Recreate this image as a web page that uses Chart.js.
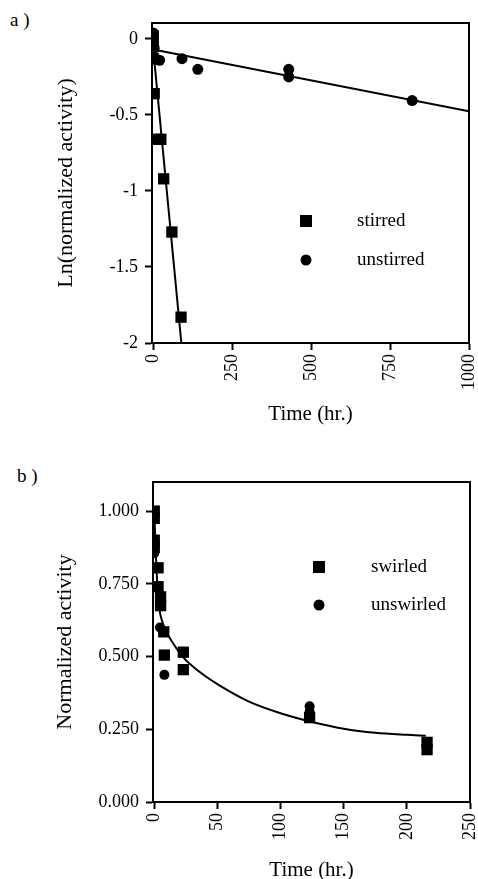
<!DOCTYPE html>
<html>
<head>
<meta charset="utf-8">
<script src="https://cdn.jsdelivr.net/npm/chart.js@4.4.1/dist/chart.umd.min.js"></script>
<style>
  html, body { margin: 0; padding: 0; background: #fff; }
  body { width: 478px; height: 879px; position: relative; overflow: hidden; font-family: "Liberation Serif", serif; }
  .panel { position: absolute; left: 0; width: 478px; }
  #wrapA { top: 0; height: 440px; }
  #wrapB { top: 440px; height: 439px; }
  .tag { position: absolute; font-size: 19px; line-height: 1; color: #000; }
</style>
</head>
<body>
<div class="tag" style="left:10px;top:10px;">a )</div>
<div class="tag" style="left:17px;top:466px;">b )</div>
<div class="panel" id="wrapA"><canvas id="chartA" width="478" height="440"></canvas></div>
<div class="panel" id="wrapB"><canvas id="chartB" width="478" height="439"></canvas></div>

<script>
// panel a: ln(normalized activity) vs time
const stirredTime = [0, 0, 0, 3, 10, 24, 33, 59, 88];
const stirredLn = [0.02, -0.05, -0.13, -0.36, -0.66, -0.66, -0.92, -1.27, -1.83];
const unstirredTime = [0, 0, 0, 3, 20, 91, 141, 429, 429, 820];
const unstirredLn = [0.04, 0.01, -0.03, -0.06, -0.14, -0.13, -0.2, -0.2, -0.25, -0.405];
const stirredFitTime = [0, 89];
const stirredFitLn = [-0.07, -2.0];
const unstirredFitTime = [0, 1000];
const unstirredFitLn = [-0.07, -0.475];
const ticksTimeA = [0, 250, 500, 750, 1000];
const ticksLnA = [0, -0.5, -1, -1.5, -2];

// panel b: normalized activity vs time
const swirledTime = [0, 0, 0, 0, 3, 3, 5, 5, 7.5, 8, 23, 23, 123, 216, 216];
const swirledAct = [1.0, 0.975, 0.9, 0.875, 0.805, 0.74, 0.705, 0.675, 0.585, 0.505, 0.515, 0.455, 0.29, 0.205, 0.18];
const unswirledTime = [0, 0, 4.5, 8, 123, 123];
const unswirledAct = [0.885, 0.855, 0.6, 0.437, 0.329, 0.31];
const fitTimeB = [0, 1, 2, 3, 4, 6, 9, 15, 23, 35, 50, 75, 100, 125, 150, 175, 200, 215];
const fitActB = [1.0, 0.88, 0.78, 0.71, 0.665, 0.625, 0.59, 0.545, 0.497, 0.45, 0.405, 0.345, 0.305, 0.275, 0.252, 0.238, 0.231, 0.228];
const ticksTimeB = [0, 50, 100, 150, 200, 250];
const ticksActB = [0, 0.25, 0.5, 0.75, 1.0];

const FONT = "Liberation Serif";

function pts(xs, ys) {
  return xs.map((x, i) => ({ x: x, y: ys[i] }));
}

// box round the plot area (top and right side)
const framePlugin = {
  id: 'frame',
  afterDraw(chart) {
    const { ctx, chartArea: a } = chart;
    ctx.save();
    ctx.strokeStyle = '#000';
    ctx.lineWidth = 2;
    ctx.beginPath();
    ctx.moveTo(a.left, a.top);
    ctx.lineTo(a.right, a.top);
    ctx.lineTo(a.right, a.bottom);
    ctx.stroke();
    ctx.restore();
  }
};

// legend inside the plot, marker then label
const keyPlugin = {
  id: 'key',
  afterDraw(chart, args, opts) {
    const ctx = chart.ctx;
    ctx.save();
    ctx.fillStyle = '#000';
    ctx.font = '19px "' + FONT + '"';
    ctx.textBaseline = 'middle';
    ctx.textAlign = 'left';
    chart.data.datasets.forEach(ds => {
      if (ds.showLine) return;
      const row = opts.rows[ds.keyRow];
      if (ds.pointStyle === 'rect') {
        ctx.fillRect(opts.markX - 6, row - 6, 12, 12);
      } else {
        ctx.beginPath();
        ctx.arc(opts.markX, row, 5.5, 0, Math.PI * 2);
        ctx.fill();
      }
      ctx.fillText(ds.label, opts.textX, row);
    });
    ctx.restore();
  }
};

function makeChart(id, cfg) {
  const ctx = document.getElementById(id).getContext('2d');
  return new Chart(ctx, {
    type: 'scatter',
    data: { datasets: cfg.datasets },
    options: {
      responsive: false,
      animation: false,
      layout: { padding: cfg.padding },
      plugins: {
        legend: { display: false },
        tooltip: { enabled: false },
        key: cfg.key
      },
      scales: {
        x: {
          type: 'linear',
          min: cfg.xMin, max: cfg.xMax,
          afterBuildTicks: s => { s.ticks = cfg.xTicks.map(v => ({ value: v })); },
          afterFit: s => { s.height = cfg.xHeight; s.paddingLeft = 0; s.paddingRight = 0; },
          grid: { display: true, drawOnChartArea: false, drawTicks: true, tickLength: 7, tickWidth: 2, color: '#000' },
          border: { display: true, color: '#000', width: 2 },
          ticks: { color: '#000', font: { family: FONT, size: 18 }, padding: 4, minRotation: 90, maxRotation: 90, autoSkip: false, callback: v => String(v) },
          title: { display: true, text: 'Time (hr.)', color: '#000', font: { family: FONT, size: 21 }, padding: { top: 0, bottom: cfg.xTitlePad } }
        },
        y: {
          type: 'linear',
          min: cfg.yMin, max: cfg.yMax,
          afterBuildTicks: s => { s.ticks = cfg.yTicks.map(v => ({ value: v })); },
          afterFit: s => { s.width = cfg.yWidth; s.paddingTop = 0; s.paddingBottom = 0; },
          grid: { display: true, drawOnChartArea: false, drawTicks: true, tickLength: 7, tickWidth: 2, color: '#000' },
          border: { display: true, color: '#000', width: 2 },
          ticks: { color: '#000', font: { family: FONT, size: 18 }, padding: 7, autoSkip: false, callback: cfg.yFormat },
          title: { display: true, text: cfg.yTitle, color: '#000', font: { family: FONT, size: 22 }, padding: { top: cfg.yTitlePad, bottom: 0 } }
        }
      }
    },
    plugins: [framePlugin, keyPlugin]
  });
}

function markers(label, xs, ys, style, r, row) {
  return {
    label: label, data: pts(xs, ys), pointStyle: style, pointRadius: r,
    backgroundColor: '#000', borderColor: '#000', borderWidth: 0, showLine: false, keyRow: row
  };
}

function fitLine(xs, ys, smooth) {
  return {
    label: 'fit', data: pts(xs, ys), showLine: true, pointRadius: 0,
    borderColor: '#000', borderWidth: 2, fill: false,
    cubicInterpolationMode: smooth ? 'monotone' : 'default', tension: smooth ? 0.4 : 0
  };
}

makeChart('chartA', {
  datasets: [
    fitLine(stirredFitTime, stirredFitLn, false),
    fitLine(unstirredFitTime, unstirredFitLn, false),
    markers('stirred', stirredTime, stirredLn, 'rect', 8, 0),
    markers('unstirred', unstirredTime, unstirredLn, 'circle', 5.5, 1)
  ],
  padding: { left: 0, right: 9, top: 23, bottom: 0 },
  xMin: -4, xMax: 1000, xTicks: ticksTimeA, xHeight: 97, xTitlePad: 13,
  yMin: -2, yMax: 0.105, yTicks: ticksLnA, yWidth: 152, yTitlePad: 53,
  yTitle: 'Ln(normalized activity)',
  yFormat: v => String(v),
  key: { markX: 306, textX: 357, rows: [221, 260] }
});

makeChart('chartB', {
  datasets: [
    fitLine(fitTimeB, fitActB, true),
    markers('swirled', swirledTime, swirledAct, 'rect', 8, 0),
    markers('unswirled', unswirledTime, unswirledAct, 'circle', 5, 1)
  ],
  padding: { left: 0, right: 7, top: 42, bottom: 0 },
  xMin: -1, xMax: 250, xTicks: ticksTimeB, xHeight: 77, xTitlePad: -4,
  yMin: 0, yMax: 1.1, yTicks: ticksActB, yWidth: 153, yTitlePad: 52,
  yTitle: 'Normalized activity',
  yFormat: v => v.toFixed(3),
  key: { markX: 319, textX: 371, rows: [127, 165] }
});
</script>
</body>
</html>
